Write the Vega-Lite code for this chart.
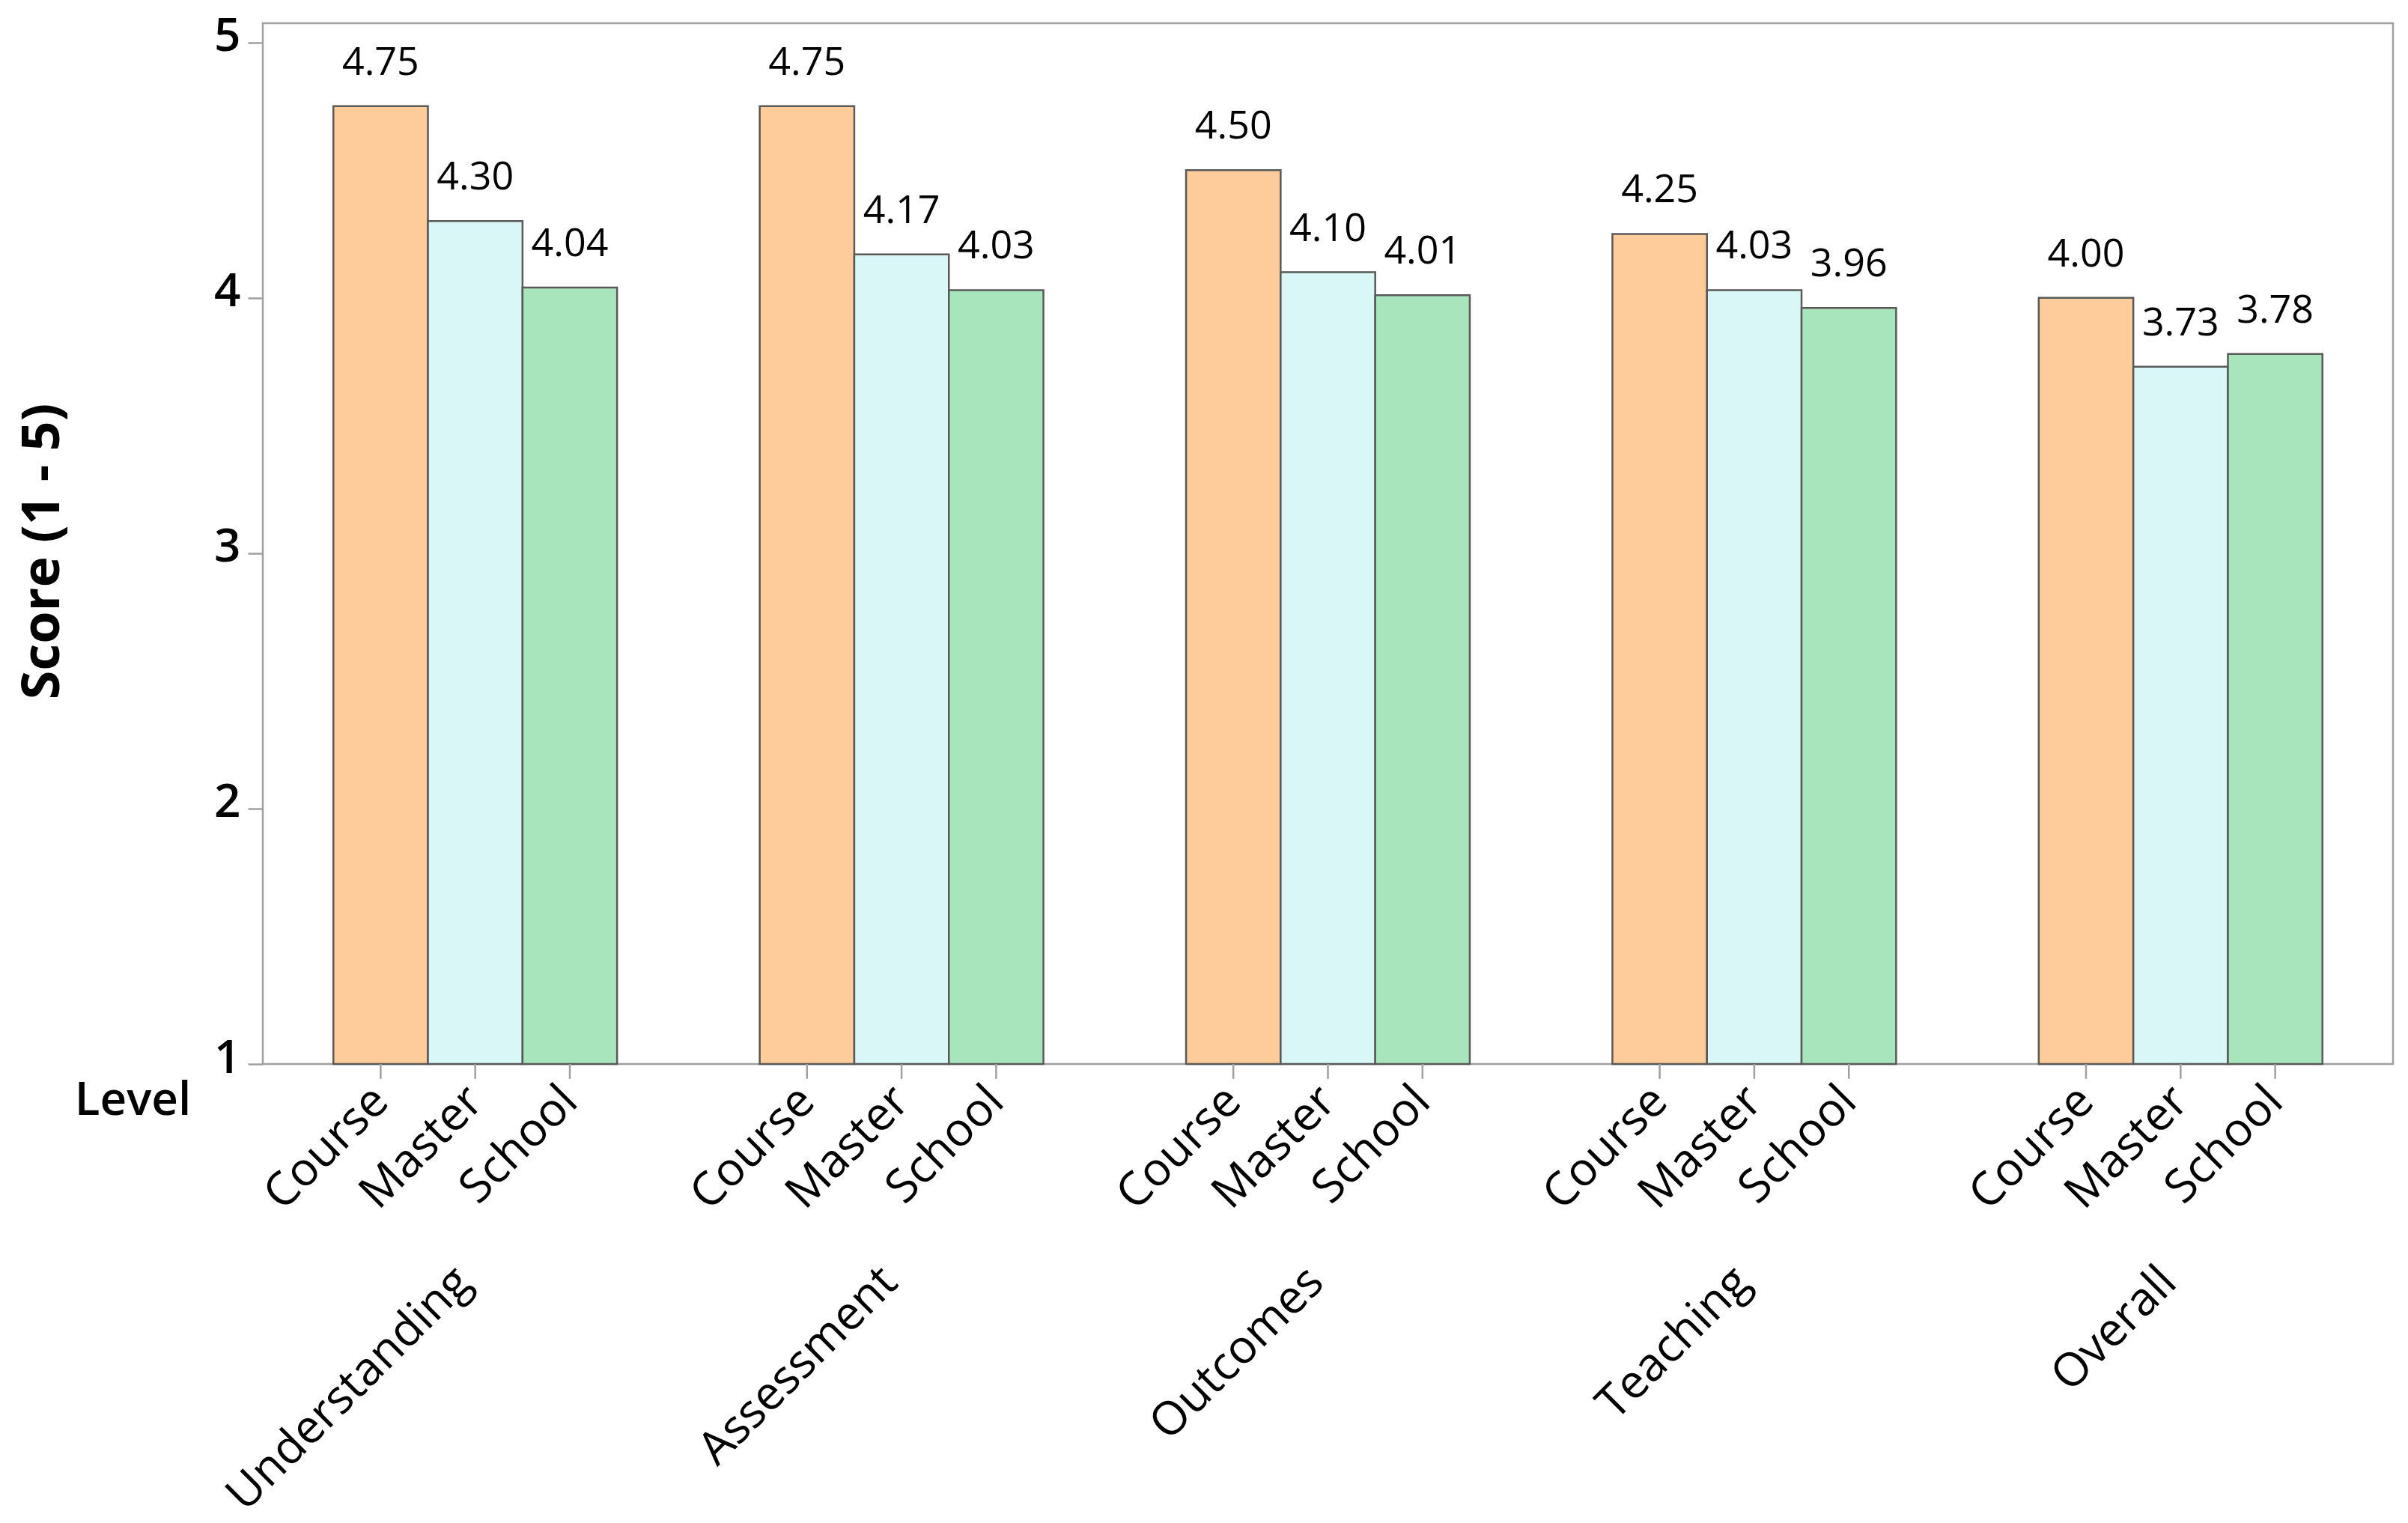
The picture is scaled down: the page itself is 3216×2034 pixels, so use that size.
{
  "$schema": "https://vega.github.io/schema/vega-lite/v6.json",
  "width": 2845,
  "height": 1390,
  "autosize": {"type": "none"},
  "padding": {"left": 351, "top": 31, "right": 20, "bottom": 613},
  "background": "white",
  "config": {
    "view": {"stroke": "#a0a0a0", "strokeWidth": 2.5},
    "font": "Open Sans"
  },
  "data": {
    "values": [
      {"Category": "Understanding", "Level": "Course", "Score": 4.75},
      {"Category": "Understanding", "Level": "Master", "Score": 4.30},
      {"Category": "Understanding", "Level": "School", "Score": 4.04},
      {"Category": "Assessment", "Level": "Course", "Score": 4.75},
      {"Category": "Assessment", "Level": "Master", "Score": 4.17},
      {"Category": "Assessment", "Level": "School", "Score": 4.03},
      {"Category": "Outcomes", "Level": "Course", "Score": 4.50},
      {"Category": "Outcomes", "Level": "Master", "Score": 4.10},
      {"Category": "Outcomes", "Level": "School", "Score": 4.01},
      {"Category": "Teaching", "Level": "Course", "Score": 4.25},
      {"Category": "Teaching", "Level": "Master", "Score": 4.03},
      {"Category": "Teaching", "Level": "School", "Score": 3.96},
      {"Category": "Overall", "Level": "Course", "Score": 4.00},
      {"Category": "Overall", "Level": "Master", "Score": 3.73},
      {"Category": "Overall", "Level": "School", "Score": 3.78}
    ]
  },
  "encoding": {
    "x": {
      "field": "Category",
      "type": "nominal",
      "sort": ["Understanding", "Assessment", "Outcomes", "Teaching", "Overall"],
      "scale": {"paddingInner": 0.3345, "paddingOuter": 0.1655},
      "axis": {
        "title": "Level",
        "titleX": -174,
        "titleY": 48,
        "titleAngle": 0,
        "titleAlign": "center",
        "titleBaseline": "middle",
        "titleFontSize": 62,
        "titleFontWeight": 600,
        "titleColor": "black",
        "labelAngle": -45,
        "labelAlign": "right",
        "labelBaseline": "middle",
        "labelPadding": 281,
        "labelOffset": -16,
        "labelFontSize": 62,
        "labelLimit": 0,
        "labelColor": "black",
        "ticks": false,
        "domain": false,
        "grid": false
      }
    },
    "xOffset": {
      "field": "Level",
      "type": "nominal",
      "sort": ["Course", "Master", "School"],
      "scale": {"paddingInner": 0, "paddingOuter": 0}
    }
  },
  "layer": [
    {
      "mark": {"type": "bar", "stroke": "#595959", "strokeWidth": 2.5},
      "encoding": {
        "y": {
          "field": "Score",
          "type": "quantitative",
          "scale": {"domain": [1, 5.075], "nice": false, "zero": false},
          "axis": {
            "values": [1, 2, 3, 4, 5],
            "format": "d",
            "grid": false,
            "domain": false,
            "tickColor": "#a0a0a0",
            "tickWidth": 2.5,
            "tickSize": 20,
            "labelPadding": 10,
            "labelOffset": -8,
            "labelFontSize": 62,
            "labelFontWeight": 600,
            "labelColor": "black",
            "title": "Score (1 - 5)",
            "titleX": -294,
            "titleY": 705,
            "titleAlign": "center",
            "titleBaseline": "middle",
            "titleFontSize": 70,
            "titleFontWeight": "bold",
            "titleColor": "black"
          }
        },
        "y2": {"datum": 1},
        "color": {
          "field": "Level",
          "type": "nominal",
          "scale": {"domain": ["Course", "Master", "School"], "range": ["#FECB9A", "#DAF7F7", "#A8E5BC"]},
          "legend": null
        }
      }
    },
    {
      "mark": {"type": "text", "fontSize": 52, "baseline": "alphabetic", "dy": -42, "color": "black"},
      "encoding": {
        "y": {"field": "Score", "type": "quantitative"},
        "text": {"field": "Score", "type": "quantitative", "format": ".2f"}
      }
    },
    {
      "mark": {"type": "rule", "color": "#a0a0a0", "strokeWidth": 2.5},
      "encoding": {
        "y": {"datum": 1},
        "y2": {"datum": 0.942}
      }
    },
    {
      "mark": {"type": "text", "fontSize": 62, "angle": -45, "align": "right", "baseline": "middle", "yOffset": 40, "xOffset": -16, "color": "black"},
      "encoding": {
        "y": {"datum": 1},
        "text": {"field": "Level", "type": "nominal"}
      }
    }
  ]
}
